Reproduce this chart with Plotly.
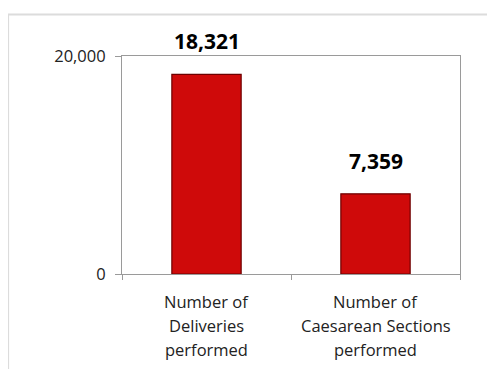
import plotly.graph_objects as go

categories = ["Number of<br>Deliveries<br>performed", "Number of<br>Caesarean Sections<br>performed"]
values = [18321, 7359]
value_labels = ["18,321", "7,359"]
y_ticks = [0, 20000]
y_tick_labels = ["0", "20,000"]

FONT = "Open Sans, sans-serif"

fig = go.Figure()
fig.add_trace(go.Bar(
    x=[0, 1], y=values, width=0.41,
    marker=dict(color="#cf0a0a", line=dict(color="#6e0000", width=1.2)),
    hoverinfo="skip",
))

annotations = []
for i, (v, lab) in enumerate(zip(values, value_labels)):
    annotations.append(dict(x=i, y=v, xref="x", yref="y", text="<b>%s</b>" % lab,
                            showarrow=False, yanchor="middle", yshift=33,
                            font=dict(family=FONT, size=21, color="#000000")))
for i, cat in enumerate(categories):
    for j, line in enumerate(cat.split("<br>")):
        annotations.append(dict(x=i, y=0, xref="x", yref="paper", text=line,
                                showarrow=False, yanchor="middle", yshift=-27 - 24 * j,
                                font=dict(family=FONT, size=16.5, color="#222222")))

fig.update_layout(
    width=495, height=369,
    margin=dict(l=114, r=43, t=48, b=103),
    paper_bgcolor="white", plot_bgcolor="white",
    showlegend=False,
    annotations=annotations,
    xaxis=dict(range=[-0.5, 1.5], showticklabels=False, tickmode="array",
               tickvals=[-0.5, 0.5, 1.5], ticks="outside", ticklen=5,
               tickcolor="#9a9a9a", showline=True, linecolor="#9a9a9a",
               linewidth=1, mirror=True, showgrid=False, zeroline=False),
    yaxis=dict(range=[0, 20000], tickmode="array", tickvals=y_ticks,
               ticktext=y_tick_labels, ticks="outside", ticklen=6,
               ticklabelstandoff=6,
               tickcolor="#9a9a9a", showline=True, linecolor="#9a9a9a",
               linewidth=1, mirror=True, showgrid=False, zeroline=False,
               tickfont=dict(family=FONT, size=16.5, color="#222222")),
    shapes=[dict(type="rect", xref="paper", yref="paper",
                 x0=-0.337, x1=1.2, y0=-0.5, y1=1.19,
                 line=dict(color="#dcdcdc", width=2), layer="below")],
)

fig.write_html("out.html")
